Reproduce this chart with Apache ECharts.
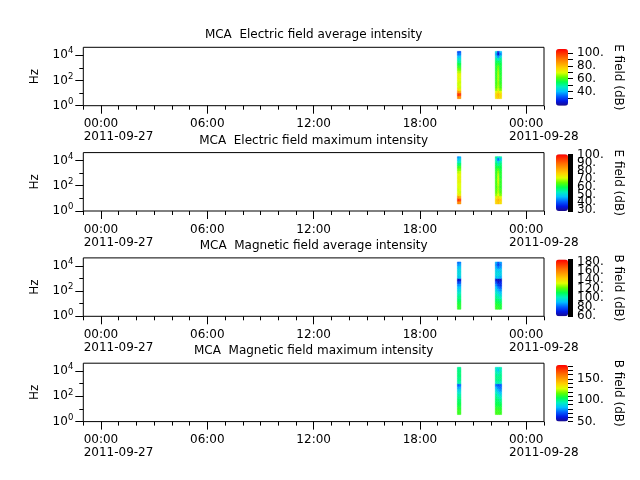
<!DOCTYPE html>
<html><head><meta charset="utf-8">
<script src="https://cdn.jsdelivr.net/npm/echarts@6/dist/echarts.min.js"></script>
<style>html,body{margin:0;padding:0;background:#fff}#c{width:640px;height:480px}</style>
</head><body><div id="c"></div>
<script>
// ---------------- data ----------------
const PANEL_TITLES = [
  'MCA  Electric field average intensity',
  'MCA  Electric field maximum intensity',
  'MCA  Magnetic field average intensity',
  'MCA  Magnetic field maximum intensity'
];
const CB_NAMES = ['E field (dB)', 'E field (dB)', 'B field (dB)', 'B field (dB)'];

// time axis in hours from 2011-09-27 00:00
const TIME_MIN = -1, TIME_MAX = 25;
const TIME_TICK_HOURS = [0, 6, 12, 18, 24];
const TIME_TICK_LABELS = ['00:00', '06:00', '12:00', '18:00', '00:00'];
const DATE_TICK_HOURS = [0, 24];
const DATE_TICK_LABELS = ['2011-09-27', '2011-09-28'];

// frequency axis (Hz, log)
const FREQ_MIN = 1, FREQ_MAX = 42000;
const FREQ_MAJOR_TICKS = [1, 100, 10000];
const FREQ_MINOR_TICKS = [10, 1000];

// spectrogram bins
const FREQ_EDGES_HZ = [3.6, 6, 10, 16, 25, 40, 63, 100, 160, 250, 400, 630, 1000, 1600, 2500, 4000, 6300, 10000, 16000, 20000];
const BURST1_HOURS = [20.11, 20.21, 20.31];
const BURST2_HOURS = [22.25, 22.37, 22.49, 22.61];

// rows: lowest frequency bin first
const E_AVG_BURST1 = [[88,86],[100,99],[86,84],[74,72],[69,68],[68,69],[69,68],[70,69],[71,70],[70,71],[67,66],[63,62],[59,58],[56,55],[51,50],[46,45],[40,41],[34,35],[30,31]];
const E_AVG_BURST2 = [[74,78,74],[76,80,76],[70,74,70],[64,68,63],[61,66,60],[60,65,59],[59,65,58],[59,66,58],[58,66,58],[58,66,57],[58,65,57],[57,64,56],[57,62,56],[56,58,55],[54,54,53],[50,46,50],[44,36,44],[38,24,36],[44,26,40]];
const E_MAX_BURST1 = [[86,85],[96,94],[84,82],[74,73],[71,70],[70,71],[71,71],[71,71],[72,72],[72,73],[72,72],[71,72],[69,70],[66,66],[62,63],[57,58],[52,53],[48,49],[44,46]];
const E_MAX_BURST2 = [[76,79,75],[77,80,77],[72,76,72],[67,71,66],[65,69,64],[64,68,63],[63,68,62],[63,69,62],[63,70,62],[63,70,62],[62,70,61],[62,69,61],[62,67,61],[61,64,60],[60,60,59],[58,55,57],[55,50,54],[52,42,48],[56,50,54]];
const B_AVG_BURST1 = [[116,115],[115,114],[112,112],[108,108],[105,106],[102,103],[98,99],[94,95],[90,90],[84,85],[74,76],[64,66],[92,92],[94,95],[95,95],[93,94],[90,91],[84,86],[80,82]];
const B_AVG_BURST2 = [[116,116,114],[115,114,113],[112,111,109],[108,107,105],[105,103,100],[102,99,95],[98,94,90],[94,88,84],[90,82,78],[84,74,72],[76,66,70],[66,62,64],[90,92,88],[94,95,92],[94,94,93],[92,90,91],[88,82,86],[84,74,82],[88,78,86]];
const B_MAX_BURST1 = [[112,112],[112,111],[110,109],[107,107],[105,105],[103,103],[100,100],[97,97],[93,93],[88,88],[80,81],[72,74],[97,97],[99,100],[100,101],[101,102],[101,101],[100,100],[98,99]];
const B_MAX_BURST2 = [[113,113,112],[112,112,111],[110,110,109],[107,107,106],[105,105,103],[103,102,99],[101,98,95],[98,94,90],[94,88,84],[89,82,78],[82,76,74],[74,70,72],[96,97,94],[99,100,98],[100,100,100],[99,97,99],[96,92,97],[92,86,94],[94,90,96]];

const PANEL_BURSTS = [
  [E_AVG_BURST1, E_AVG_BURST2],
  [E_MAX_BURST1, E_MAX_BURST2],
  [B_AVG_BURST1, B_AVG_BURST2],
  [B_MAX_BURST1, B_MAX_BURST2]
];

// colour bars (labels split in two interleaved sets so that none is dropped)
const CB_RANGES = [[18, 106], [29, 101], [58, 184], [50, 183]];
const CB_LABELS_A = [[40, 60, 80, 100], [30, 50, 70, 90], [60, 100, 140, 180], [50, 100, 150]];
const CB_LABELS_B = [[], [40, 60, 80, 100], [80, 120, 160], []];
const CB1_TICKS = [30, 40, 50, 60, 70, 80, 90, 100];
const CB4_TICKS = [50, 60, 70, 80, 90, 100, 110, 120, 130, 140, 150, 160, 170, 180];

const CMAP = ['#1a0a8c', '#0018e6', '#0060ff', '#00c0ff', '#00f0c0', '#00ff50', '#60ff00', '#e0ff00', '#ffd000', '#ffa000', '#ff7000', '#ff3800', '#ff0000'];

// ---------------- layout ----------------
const PLOT_L = 83.3, PLOT_R = 544, PLOT_H = 58.4;
const PLOT_TOPS = [47.3, 152.6, 257.9, 363.2];
const CB_L = 556, CB_W = 12, CB_TOP_OFF = 1.7;
const FONT = 'DejaVu Sans';

function buildCells(timeEdges, matrix) {
  const out = [];
  for (let fi = 0; fi < matrix.length; fi++) {
    for (let ti = 0; ti < matrix[fi].length; ti++) {
      out.push([timeEdges[ti], timeEdges[ti + 1], FREQ_EDGES_HZ[fi], FREQ_EDGES_HZ[fi + 1], matrix[fi][ti]]);
    }
  }
  return out;
}

const grid = [], xAxis = [], yAxis = [], series = [], visualMap = [], title = [];

PLOT_TOPS.forEach((top, i) => {
  grid.push({ left: PLOT_L, top: top, width: PLOT_R - PLOT_L, height: PLOT_H, show: true, borderColor: '#000', borderWidth: 1, backgroundColor: 'transparent', containLabel: false });
});
PLOT_TOPS.forEach((top, i) => {
  grid.push({ left: CB_L, top: top + CB_TOP_OFF, width: CB_W, height: PLOT_H - CB_TOP_OFF, show: false });
});

const lineStyle = { color: '#000', width: 1 };
const noLine = { show: false, onZero: false };

PLOT_TOPS.forEach((top, i) => {
  // major time axis
  xAxis.push({
    type: 'value', gridIndex: i, min: TIME_MIN, max: TIME_MAX, position: 'bottom',
    axisLine: noLine, splitLine: { show: false },
    axisTick: { show: true, length: 8, lineStyle, customValues: TIME_TICK_HOURS },
    axisLabel: {
      show: true, customValues: TIME_TICK_HOURS, margin: 12, color: '#000', fontFamily: FONT, fontSize: 12, lineHeight: 13,
      showMinLabel: true, showMaxLabel: true,
      formatter: (v) => {
        const h = Math.round(v);
        const k = TIME_TICK_HOURS.indexOf(h);
        if (k < 0) return '';
        const d = DATE_TICK_HOURS.indexOf(h);
        if (d >= 0) return '{t|' + TIME_TICK_LABELS[k] + '}\n{t|' + DATE_TICK_LABELS[d] + '}';
        return '{p|' + TIME_TICK_LABELS[k] + '}';
      },
      rich: {
        t: { align: 'left', padding: [0, 0, 0, 35], lineHeight: 13, fontSize: 12, fontFamily: FONT, color: '#000' },
        p: { lineHeight: 13, fontSize: 12, fontFamily: FONT, color: '#000' }
      }
    }
  });
  // minor (hourly) ticks
  xAxis.push({
    type: 'value', gridIndex: i, min: TIME_MIN, max: TIME_MAX, interval: 1, position: 'bottom',
    axisLine: noLine, splitLine: { show: false },
    axisTick: { show: true, length: 4, lineStyle },
    axisLabel: { show: false }
  });
  yAxis.push({
    type: 'log', logBase: 10, gridIndex: i, min: FREQ_MIN, max: FREQ_MAX, position: 'left',
    axisLine: noLine, splitLine: { show: false }, minorSplitLine: { show: false },
    axisTick: { show: true, length: 8, lineStyle, customValues: FREQ_MAJOR_TICKS },
    axisLabel: {
      show: true, customValues: FREQ_MAJOR_TICKS, margin: 10, color: '#000', fontFamily: FONT,
      showMinLabel: true, showMaxLabel: true,
      formatter: (v) => '{b|10}{s|' + Math.round(Math.log10(v)) + '}',
      rich: {
        b: { fontSize: 12, lineHeight: 14, fontFamily: FONT, color: '#000' },
        s: { fontSize: 8.5, lineHeight: 10, padding: [0, 0, 8, 0], fontFamily: FONT, color: '#000' }
      }
    },
    name: 'Hz', nameLocation: 'middle', nameRotate: 90, nameGap: 42,
    nameTextStyle: { fontSize: 12, color: '#000', fontFamily: FONT }
  });
  yAxis.push({
    type: 'log', logBase: 10, gridIndex: i, min: FREQ_MIN, max: FREQ_MAX, position: 'left',
    axisLine: noLine, splitLine: { show: false },
    axisTick: { show: true, length: 4, lineStyle, customValues: FREQ_MINOR_TICKS },
    axisLabel: { show: false }
  });
});

// colour bar axes
const CB_TICK_OPTS = [
  { customValues: CB1_TICKS },
  { interval: 1 },
  { interval: 2 },
  { customValues: CB4_TICKS }
];
const cbLabel = (vals) => ({ show: vals.length > 0, customValues: vals, margin: 9, color: '#000', fontFamily: FONT, fontSize: 12,
  showMinLabel: true, showMaxLabel: true, hideOverlap: false, formatter: (v) => v + '.' });
PLOT_TOPS.forEach((top, i) => {
  xAxis.push({ type: 'value', gridIndex: 4 + i, min: 0, max: 1, show: false, axisLine: noLine });
  const t = CB_TICK_OPTS[i];
  const ax = {
    type: 'value', gridIndex: 4 + i, min: CB_RANGES[i][0], max: CB_RANGES[i][1], position: 'right',
    axisLine: noLine, splitLine: { show: false },
    axisTick: { show: true, length: 5, lineStyle },
    axisLabel: cbLabel(CB_LABELS_A[i]),
    name: CB_NAMES[i], nameLocation: 'middle', nameRotate: -90, nameGap: 44,
    nameTextStyle: { fontSize: 12, color: '#000', fontFamily: FONT }
  };
  if (t.customValues) ax.axisTick.customValues = t.customValues;
  if (t.interval) ax.interval = t.interval;
  yAxis.push(ax);
});
PLOT_TOPS.forEach((top, i) => {
  yAxis.push({
    type: 'value', gridIndex: 4 + i, min: CB_RANGES[i][0], max: CB_RANGES[i][1], position: 'right',
    axisLine: noLine, splitLine: { show: false }, axisTick: { show: false },
    axisLabel: cbLabel(CB_LABELS_B[i])
  });
});

// spectrogram series
PANEL_BURSTS.forEach((bursts, i) => {
  const data = buildCells(BURST1_HOURS, bursts[0]).concat(buildCells(BURST2_HOURS, bursts[1]));
  series.push({
    type: 'custom', xAxisIndex: 2 * i, yAxisIndex: 2 * i, silent: true,
    encode: { x: [0, 1], y: [2, 3] },
    data: data,
    renderItem: (params, api) => {
      const p0 = api.coord([api.value(0), api.value(2)]);
      const p1 = api.coord([api.value(1), api.value(3)]);
      const c = api.visual('color');
      return { type: 'rect', shape: { x: p0[0], y: p1[1], width: p1[0] - p0[0], height: p0[1] - p1[1] }, style: { fill: c, stroke: c, lineWidth: 0.5 } };
    }
  });
  visualMap.push({
    type: 'continuous', seriesIndex: i, dimension: 4, min: CB_RANGES[i][0], max: CB_RANGES[i][1],
    calculable: false, orient: 'vertical', left: CB_L, top: PLOT_TOPS[i] + CB_TOP_OFF,
    itemWidth: CB_W, itemHeight: PLOT_H - CB_TOP_OFF, padding: 0, hoverLink: false,
    inRange: { color: CMAP }
  });
  title.push({
    text: PANEL_TITLES[i], left: (PLOT_L + PLOT_R) / 2, top: PLOT_TOPS[i] - 19, textAlign: 'center', textVerticalAlign: 'top', padding: 0,
    textStyle: { fontSize: 12, fontWeight: 'normal', color: '#000', fontFamily: FONT, lineHeight: 14 }
  });
});

const chart = echarts.init(document.getElementById('c'), null, { renderer: 'canvas' });
chart.setOption({
  animation: false,
  backgroundColor: '#fff',
  textStyle: { fontFamily: FONT },
  title, grid, xAxis, yAxis, visualMap, series
});
</script></body></html>
